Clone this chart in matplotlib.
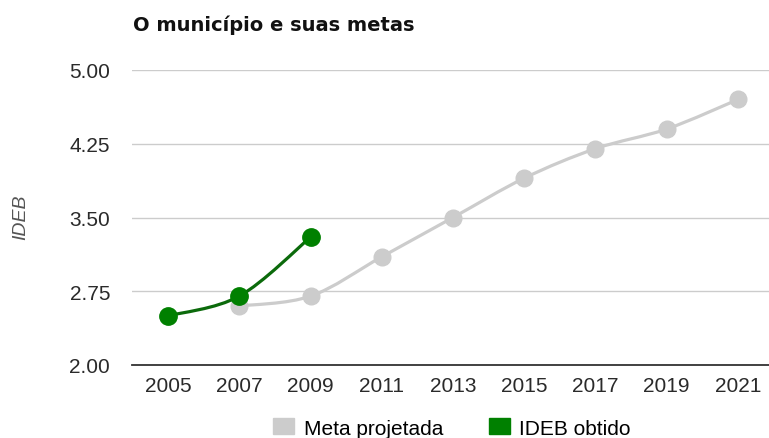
import matplotlib
matplotlib.use("Agg")
import matplotlib.pyplot as plt
from matplotlib.patches import Patch, PathPatch
from matplotlib.path import Path

years = [2005, 2007, 2009, 2011, 2013, 2015, 2017, 2019, 2021]
meta_years = [2007, 2009, 2011, 2013, 2015, 2017, 2019, 2021]
meta_vals = [2.6, 2.7, 3.1, 3.5, 3.9, 4.2, 4.4, 4.7]
ideb_years = [2005, 2007, 2009]
ideb_vals = [2.5, 2.7, 3.3]
yticks = [2.00, 2.75, 3.50, 4.25, 5.00]

plt.rcParams['font.family'] = ['Liberation Sans', 'DejaVu Sans']

fig = plt.figure(figsize=(7.69, 4.39), dpi=100)
ax = fig.add_axes([132.4/769, 73/439, (773.6-132.4)/769, 295/439])

gray = '#cccccc'
green = '#008000'


def smooth_path(xs, ys):
    pts = list(zip(xs, ys))
    n = len(pts)
    verts = [pts[0]]
    codes = [Path.MOVETO]
    for i in range(n - 1):
        p0 = pts[i - 1] if i > 0 else pts[i]
        p1 = pts[i]
        p2 = pts[i + 1]
        p3 = pts[i + 2] if i + 2 < n else pts[i + 1]
        c1 = (p1[0] + (p2[0] - p0[0]) / 6, p1[1] + (p2[1] - p0[1]) / 6)
        c2 = (p2[0] - (p3[0] - p1[0]) / 6, p2[1] - (p3[1] - p1[1]) / 6)
        verts += [c1, c2, p2]
        codes += [Path.CURVE4] * 3
    return Path(verts, codes)


ax.add_patch(PathPatch(smooth_path(meta_years, meta_vals), facecolor='none',
                       edgecolor=gray, lw=2.3, zorder=3, capstyle='round'))
ax.plot(meta_years, meta_vals, ls='none', marker='o', ms=12,
        markerfacecolor=gray, markeredgecolor=gray, zorder=3)
ax.add_patch(PathPatch(smooth_path(ideb_years, ideb_vals), facecolor='none',
                       edgecolor='#0b6a0b', lw=2.3, zorder=4, capstyle='round'))
ax.plot(ideb_years, ideb_vals, ls='none', marker='o', ms=12.5,
        markerfacecolor=green, markeredgecolor=green, zorder=4)

ax.set_xlim(2004, 2022)
ax.set_ylim(2.0, 5.0)
ax.set_xticks(years)
ax.set_xticklabels([str(y) for y in years])
ax.set_yticks(yticks)
ax.set_yticklabels([f"{v:.2f}" for v in yticks])
ax.tick_params(axis='both', length=0, labelsize=15, colors='#2a2a2a')
ax.tick_params(axis='x', pad=8)
ax.tick_params(axis='y', pad=16)
ax.grid(axis='y', color='#cccccc', lw=1)
ax.set_axisbelow(True)
for s in ['top', 'right', 'left']:
    ax.spines[s].set_visible(False)
ax.spines['bottom'].set_color('#333333')
ax.spines['bottom'].set_linewidth(1.3)
ax.spines['bottom'].set_zorder(5)

fig.text(133/769, 1 - 25/439, 'O município e suas metas', fontsize=14, fontweight='bold',
         color='#111111', va='center', ha='left', family='DejaVu Sans')
fig.text(21/769, 1 - 217/439, 'IDEB', rotation=90, fontsize=14, style='italic',
         color='#555555', va='center', ha='center')

handles = [Patch(facecolor=gray, edgecolor=gray), Patch(facecolor=green, edgecolor=green)]
fig.legend(handles, ['Meta projetada', 'IDEB obtido'], loc='center', bbox_to_anchor=(452/769, 1 - 429/439),
           ncol=2, frameon=False, fontsize=15, handlelength=1.0, handleheight=0.8,
           columnspacing=2.2, handletextpad=0.45, borderpad=0.0)

fig.savefig('out.png', dpi=100)
